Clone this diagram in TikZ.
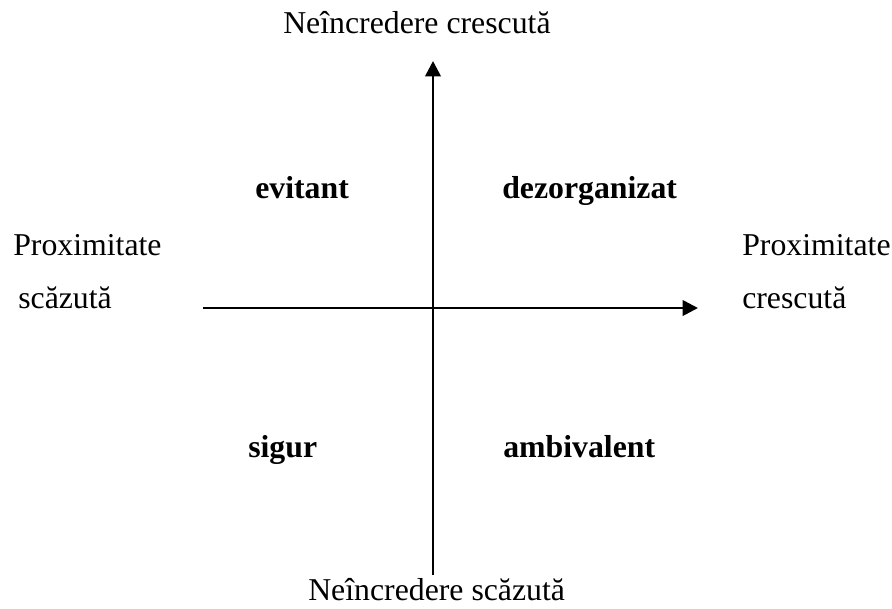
\documentclass[tikz,border=0pt]{standalone}
\usepackage{fontspec}
\setmainfont{Liberation Serif}
\usetikzlibrary{arrows.meta}
\tikzset{
  lbl/.style={anchor=base west, inner sep=0pt, font=\fontsize{22.6}{27}\selectfont},
  quad/.style={lbl, font=\fontsize{22.6}{27}\selectfont\bfseries},
  axis/.style={line width=1.9pt, -{Triangle[width=11pt, length=11pt]}}
}

\begin{document}
\begin{tikzpicture}[x=0.025cm, y=-0.025cm]
\useasboundingbox (0,0) rectangle (892,608);
% axes
\coordinate (ybot) at (433,575);
\coordinate (ytop) at (433,61);
\coordinate (xleft) at (203,308);
\coordinate (xright) at (698,308);
\draw[axis] (ybot) -- (ytop);
\draw[axis] (xleft) -- (xright);
% axis labels
\node[lbl] (top) at (283,33) {Neîncredere crescută};
\node[lbl] (bot) at (308,600) {Neîncredere scăzută};
\node[lbl] (lefta) at (13,255) {Proximitate};
\node[lbl] (leftb) at (18,308) {scăzută};
\node[lbl] (righta) at (742,255) {Proximitate};
\node[lbl] (rightb) at (742,308) {crescută};
% quadrants
\node[quad] (evit) at (255,198) {evitant};
\node[quad] (dezo) at (502,198) {dezorganizat};
\node[quad] (sigur) at (248,457) {sigur};
\node[quad] (ambi) at (503,457) {ambivalent};
\end{tikzpicture}
\end{document}
